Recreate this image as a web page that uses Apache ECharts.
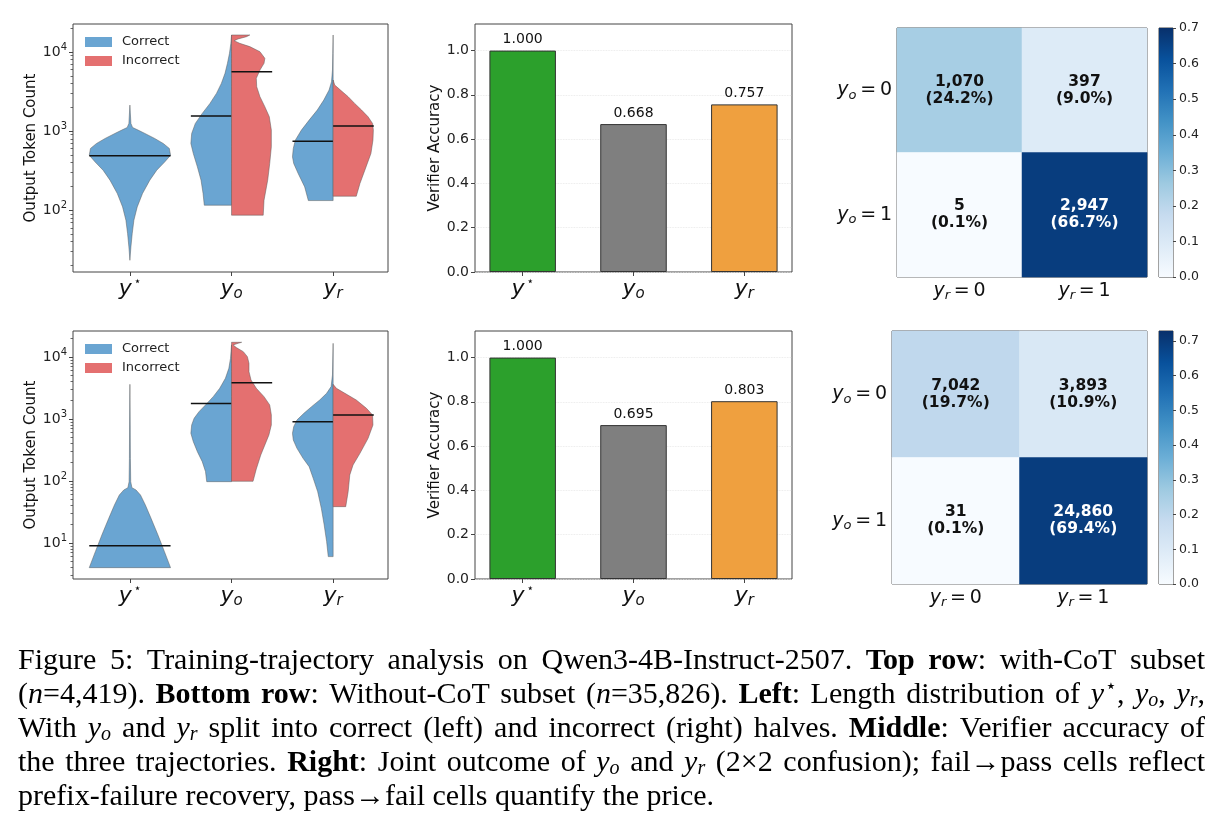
<!DOCTYPE html>
<html>
<head>
<meta charset="UTF-8">
<title>Figure 5</title>
<style>
  html, body { margin: 0; padding: 0; background: #fff; }
  #main { width: 1224px; height: 822px; }
</style>
</head>
<body>
<div id="main"></div>
<script src="https://cdn.jsdelivr.net/npm/echarts@6/dist/echarts.min.js"></script>
<script>
// ---------------- data ----------------
// length profiles: level = log10(output tokens), width = relative density (1 = widest)
// with-CoT (top row)
var tStarLog = [1.367, 1.536, 1.705, 1.873, 2.042, 2.211, 2.380, 2.506, 2.612, 2.696, 2.781, 2.844, 2.907, 2.970, 3.013, 3.046, 3.097, 3.329];
var tStarW   = [0, 0.025, 0.057, 0.098, 0.18, 0.31, 0.49, 0.66, 0.86, 1, 0.97, 0.82, 0.61, 0.37, 0.2, 0.066, 0.025, 0];
var tOCLog = [2.063, 2.211, 2.380, 2.549, 2.717, 2.844, 2.970, 3.097, 3.224, 3.350, 3.477, 3.603, 3.730, 3.857, 3.983, 4.110, 4.215];
var tOCW   = [0.67, 0.70, 0.75, 0.84, 0.94, 1, 0.98, 0.89, 0.72, 0.53, 0.37, 0.25, 0.16, 0.1, 0.05, 0.016, 0];
var tOILog = [1.937, 2.127, 2.380, 2.591, 2.802, 3.013, 3.181, 3.308, 3.435, 3.561, 3.667, 3.772, 3.857, 3.920, 4.004, 4.068, 4.110, 4.143, 4.165, 4.194, 4.215];
var tOIW   = [0.78, 0.8, 0.89, 0.94, 0.98, 0.98, 0.93, 0.82, 0.7, 0.62, 0.61, 0.7, 0.8, 0.82, 0.7, 0.45, 0.2, 0.066, 0.16, 0.37, 0.45];
var tRCLog = [2.122, 2.295, 2.464, 2.591, 2.675, 2.781, 2.886, 3.013, 3.139, 3.266, 3.392, 3.519, 3.624, 3.772, 3.983, 4.215];
var tRCW   = [0.61, 0.70, 0.86, 0.97, 1, 0.98, 0.93, 0.78, 0.59, 0.39, 0.23, 0.1, 0.04, 0.016, 0.008, 0];
var tRILog = [2.177, 2.338, 2.506, 2.717, 2.886, 3.013, 3.097, 3.181, 3.266, 3.350, 3.435, 3.519, 3.582, 3.646];
var tRIW   = [0.57, 0.66, 0.78, 0.93, 0.98, 0.99, 0.97, 0.86, 0.70, 0.53, 0.37, 0.18, 0.04, 0];
var tMedians = [487, 1550, 5640, 747, 1157]; // y*, yo correct, yo incorrect, yr correct, yr incorrect

// without-CoT (bottom row)
var bStarLog = [0.602, 0.860, 1.129, 1.398, 1.613, 1.774, 1.855, 1.892, 1.989, 2.366, 2.903, 3.559];
var bStarW   = [1, 0.85, 0.69, 0.52, 0.38, 0.26, 0.15, 0.05, 0.02, 0.012, 0.008, 0];
var bOCLog = [1.989, 2.151, 2.312, 2.473, 2.634, 2.769, 2.903, 3.011, 3.118, 3.226, 3.360, 3.495, 3.656, 3.817, 3.978, 4.194];
var bOCW   = [0.61, 0.64, 0.72, 0.84, 0.94, 1, 0.98, 0.92, 0.80, 0.64, 0.45, 0.29, 0.15, 0.066, 0.025, 0];
var bOILog = [1.995, 2.194, 2.419, 2.581, 2.742, 2.903, 3.065, 3.226, 3.360, 3.495, 3.629, 3.763, 3.898, 4.005, 4.086, 4.151, 4.194, 4.220, 4.237];
var bOIW   = [0.53, 0.61, 0.72, 0.82, 0.92, 0.98, 0.98, 0.94, 0.80, 0.61, 0.48, 0.43, 0.43, 0.39, 0.29, 0.12, 0.04, 0.16, 0.25];
var bRCLog = [0.780, 1.022, 1.290, 1.559, 1.828, 2.043, 2.231, 2.366, 2.527, 2.661, 2.769, 2.876, 2.984, 3.091, 3.199, 3.306, 3.414, 3.522, 3.710, 4.220];
var bRCW   = [0.12, 0.16, 0.22, 0.29, 0.38, 0.49, 0.59, 0.74, 0.89, 0.98, 1, 0.97, 0.89, 0.72, 0.53, 0.33, 0.16, 0.05, 0.016, 0];
var bRILog = [1.586, 1.828, 2.097, 2.258, 2.446, 2.688, 2.903, 3.065, 3.172, 3.306, 3.414, 3.495, 3.559];
var bRIW   = [0.31, 0.37, 0.41, 0.49, 0.66, 0.86, 0.98, 0.97, 0.82, 0.57, 0.29, 0.08, 0];
var bMedians = [9, 1770, 3850, 906, 1160];

// verifier accuracy
var accTop = [1.000, 0.668, 0.757];
var accBot = [1.000, 0.695, 0.803];

// confusion counts, rows yo = 0/1, cols yr = 0/1
var confTop = [[1070, 397], [5, 2947]];
var confBot = [[7042, 3893], [31, 24860]];

var accTicks = [0, 0.2, 0.4, 0.6, 0.8, 1.0];
var cbTicks = [0, 0.1, 0.2, 0.3, 0.4, 0.5, 0.6, 0.7];
var binLabels = ['0', '1'];

// ---------------- style ----------------
var FONT = 'DejaVu Sans';
var SERIF = 'Liberation Serif';
var BLUE = '#6aa5d2', RED = '#e47070';
var barColors = ['#2ca02c', '#7f7f7f', '#efa03f'];
var BLUES = ['#f7fbff', '#deebf7', '#c6dbef', '#9ecae1', '#6baed6', '#4292c6', '#2171b5', '#08519c', '#08306b'];
var HALF = 0.4;
var SPINE = '#444';

function halves(logs, ws, meds) {
  return {
    correct: [
      { cat: 0, side: 0, log: logs[0], w: ws[0], med: meds[0] },
      { cat: 1, side: -1, log: logs[1], w: ws[1], med: meds[1] },
      { cat: 2, side: -1, log: logs[3], w: ws[3], med: meds[3] }
    ],
    incorrect: [
      { cat: 1, side: 1, log: logs[2], w: ws[2], med: meds[2] },
      { cat: 2, side: 1, log: logs[4], w: ws[4], med: meds[4] }
    ]
  };
}
var vTop = halves([tStarLog, tOCLog, tOILog, tRCLog, tRILog], [tStarW, tOCW, tOIW, tRCW, tRIW], tMedians);
var vBot = halves([bStarLog, bOCLog, bOILog, bRCLog, bRILog], [bStarW, bOCW, bOIW, bRCW, bRIW], bMedians);

function violinSeries(name, list, axX, axY, color) {
  return {
    type: 'custom', name: name, xAxisIndex: axX, yAxisIndex: axY,
    itemStyle: { color: color },
    data: list.map(function (v) { return [v.cat, Math.log10(v.med)]; }),
    renderItem: function (params, api) {
      var v = list[params.dataIndex];
      var left = [], right = [];
      for (var i = 0; i < v.log.length; i++) {
        var hw = v.w[i] * HALF;
        left.push(api.coord([v.cat - (v.side <= 0 ? hw : 0), v.log[i]]));
        right.push(api.coord([v.cat + (v.side >= 0 ? hw : 0), v.log[i]]));
      }
      var pts = right.concat(left.slice().reverse());
      var m = Math.log10(v.med);
      var a = api.coord([v.cat - (v.side <= 0 ? HALF : 0), m]);
      var b = api.coord([v.cat + (v.side >= 0 ? HALF : 0), m]);
      return {
        type: 'group',
        children: [
          { type: 'polygon', shape: { points: pts },
            style: { fill: color, stroke: 'rgba(90,90,90,0.7)', lineWidth: 0.7 } },
          { type: 'line', shape: { x1: a[0], y1: a[1], x2: b[0], y2: b[1] },
            style: { stroke: '#111', lineWidth: 1.5 } }
        ]
      };
    }
  };
}

var catRich = {
  i: { fontSize: 22, fontFamily: FONT, fontStyle: 'italic', color: '#111', lineHeight: 26 },
  st: { fontSize: 12, fontFamily: FONT, color: '#111', lineHeight: 12, padding: [0, 0, 14, 2] },
  sb: { fontSize: 15, fontFamily: FONT, fontStyle: 'italic', color: '#111', lineHeight: 15, padding: [11, 0, 0, 0] }
};
function catLabel(v) {
  var k = Math.round(v);
  return ['{i|y}{st|⋆}', '{i|y}{sb|o}', '{i|y}{sb|r}'][k];
}
var powRich = {
  b: { fontSize: 14, fontFamily: FONT, color: '#222', lineHeight: 20 },
  s: { fontSize: 10, fontFamily: FONT, color: '#222', lineHeight: 10, padding: [0, 0, 10, 0] }
};

function logTicks(lo, hi) {
  var major = [], minor = [];
  for (var d = Math.floor(lo); d <= Math.ceil(hi); d++) {
    if (d >= lo && d <= hi) major.push(d);
    for (var k = 2; k <= 9; k++) {
      var t = d + Math.log10(k);
      if (t >= lo && t <= hi) minor.push(t);
    }
  }
  return { major: major, minor: minor };
}

var grids = [
  { left: 73, top: 24, width: 315, height: 248 },   // 0 violin top
  { left: 73, top: 331, width: 315, height: 248 },  // 1 violin bottom
  { left: 475, top: 24, width: 317, height: 248 },  // 2 bar top
  { left: 475, top: 331, width: 317, height: 248 }, // 3 bar bottom
  { left: 897, top: 28, width: 250, height: 249 },  // 4 heat top
  { left: 892, top: 331, width: 255, height: 253 }, // 5 heat bottom
  { left: 1159, top: 28, width: 14, height: 249 },  // 6 colorbar top
  { left: 1159, top: 331, width: 14, height: 253 }  // 7 colorbar bottom
];
grids.forEach(function (g) { g.show = true; g.borderColor = SPINE; g.borderWidth = 1; });

var noLine = { show: false, onZero: false };
var xAxes = [], yAxes = [];
function violinAxes(gi, lo, hi) {
  var t = logTicks(lo, hi);
  xAxes.push({
    type: 'value', gridIndex: gi, min: -0.56, max: 2.54,
    axisLine: noLine, splitLine: { show: false },
    axisTick: { show: true, length: 4, customValues: [0, 1, 2], lineStyle: { color: SPINE } },
    axisLabel: { customValues: [0, 1, 2], formatter: catLabel, rich: catRich, margin: 4 }
  });
  yAxes.push({
    type: 'value', gridIndex: gi, min: lo, max: hi, position: 'left',
    name: 'Output Token Count', nameLocation: 'middle', nameGap: 28,
    nameTextStyle: { fontSize: 15, fontFamily: FONT, color: '#111' },
    axisLine: noLine, splitLine: { show: false },
    axisTick: { show: true, length: 4, customValues: t.major, lineStyle: { color: SPINE } },
    axisLabel: { customValues: t.major, margin: 6,
      formatter: function (v) { return '{b|10}{s|' + Math.round(v) + '}'; }, rich: powRich }
  });
  // minor log ticks
  yAxes.push({
    type: 'value', gridIndex: gi, min: lo, max: hi, position: 'left', offset: 0,
    axisLine: noLine, splitLine: { show: false },
    axisTick: { show: true, length: 2.5, customValues: t.minor, lineStyle: { color: SPINE, width: 0.8 } },
    axisLabel: { show: false, customValues: t.minor }
  });
}
violinAxes(0, 1.219, 4.354);   // x0, y0, y1
violinAxes(1, 0.419, 4.419);   // x1, y2, y3

function barAxes(gi) {
  xAxes.push({
    type: 'value', gridIndex: gi, min: -0.43, max: 2.43,
    axisLine: noLine, splitLine: { show: false },
    axisTick: { show: true, length: 4, customValues: [0, 1, 2], lineStyle: { color: SPINE } },
    axisLabel: { customValues: [0, 1, 2], formatter: catLabel, rich: catRich, margin: 4 }
  });
  yAxes.push({
    type: 'value', gridIndex: gi, min: 0, max: 1.12,
    name: 'Verifier Accuracy', nameLocation: 'middle', nameGap: 25,
    nameTextStyle: { fontSize: 15, fontFamily: FONT, color: '#111' },
    axisLine: noLine,
    splitLine: { show: true, lineStyle: { color: '#e4e4e4', type: 'dotted', width: 0.8 } },
    axisTick: { show: true, length: 4, customValues: accTicks, lineStyle: { color: SPINE } },
    axisLabel: { customValues: accTicks, fontSize: 14, fontFamily: FONT, color: '#222', margin: 6,
      formatter: function (v) { return v.toFixed(1); } }
  });
}
barAxes(2); // x2, y4
barAxes(3); // x3, y5

var heatRich = {
  i: { fontSize: 19, fontFamily: FONT, fontStyle: 'italic', color: '#111', lineHeight: 24 },
  sb: { fontSize: 13, fontFamily: FONT, fontStyle: 'italic', color: '#111', lineHeight: 13, padding: [10, 0, 0, 0] },
  n: { fontSize: 19, fontFamily: FONT, color: '#111', lineHeight: 24 }
};
function heatAxes(gi) {
  xAxes.push({
    type: 'category', gridIndex: gi, data: binLabels,
    axisLine: noLine, axisTick: { show: false }, splitLine: { show: false },
    axisLabel: { margin: 2, rich: heatRich, formatter: function (v) { return '{i|y}{sb|r}{n|\u2009=\u2009' + v + '}'; } }
  });
  yAxes.push({
    type: 'category', gridIndex: gi, data: binLabels, inverse: true,
    axisLine: noLine, axisTick: { show: false }, splitLine: { show: false },
    axisLabel: { margin: 5, rich: heatRich, formatter: function (v) { return '{i|y}{sb|o}{n|\u2009=\u2009' + v + '}'; } }
  });
}
heatAxes(4); // x4, y6
heatAxes(5); // x5, y7

function fracs(conf) {
  var tot = conf[0][0] + conf[0][1] + conf[1][0] + conf[1][1];
  var out = [];
  for (var r = 0; r < 2; r++) for (var c = 0; c < 2; c++) out.push([c, r, conf[r][c] / tot, conf[r][c]]);
  return out;
}
var heatTop = fracs(confTop), heatBot = fracs(confBot);
function vmax(cells) { return Math.max.apply(null, cells.map(function (d) { return d[2]; })) * 1.05; }
var vmaxTop = vmax(heatTop), vmaxBot = vmax(heatBot);

function cbarAxes(gi, vm) {
  xAxes.push({ type: 'value', gridIndex: gi, min: 0, max: 1, show: false });
  yAxes.push({
    type: 'value', gridIndex: gi, min: 0, max: vm, position: 'right',
    axisLine: noLine, splitLine: { show: false },
    axisTick: { show: true, length: 3, customValues: cbTicks, lineStyle: { color: SPINE } },
    axisLabel: { customValues: cbTicks, fontSize: 12.5, fontFamily: FONT, color: '#222', margin: 6,
      formatter: function (v) { return v.toFixed(1); } }
  });
}
cbarAxes(6, vmaxTop); // x6, y8
cbarAxes(7, vmaxBot); // x7, y9

function barSeries(axX, axY, acc) {
  var g = grids[axX];
  return {
    type: 'bar', xAxisIndex: axX, yAxisIndex: axY,
    barWidth: 0.6 * g.width / 2.86,
    itemStyle: { borderColor: '#333', borderWidth: 1 },
    label: { show: true, position: 'top', distance: 4, fontSize: 14, fontFamily: FONT, color: '#111',
      formatter: function (p) { return p.value[1].toFixed(3); } },
    data: acc.map(function (v, i) { return { value: [i, v], itemStyle: { color: barColors[i] } }; })
  };
}

function heatSeries(axX, axY, cells) {
  return {
    type: 'heatmap', xAxisIndex: axX, yAxisIndex: axY,
    label: {
      show: true, fontSize: 15.5, fontWeight: 'bold', fontFamily: FONT, lineHeight: 17, color: '#111',
      formatter: function (p) {
        return p.value[3].toLocaleString('en-US') + '\n(' + (p.value[2] * 100).toFixed(1) + '%)';
      }
    },
    data: cells.map(function (d) {
      return { value: d, label: { color: d[2] > 0.5 ? '#fff' : '#111' } };
    })
  };
}

function cbarSeries(axX, axY, vm) {
  return {
    type: 'custom', xAxisIndex: axX, yAxisIndex: axY, data: [[0, 0]],
    renderItem: function (params, api) {
      var p0 = api.coord([0, 0]), p1 = api.coord([1, vm]);
      var stops = BLUES.map(function (c, i) { return { offset: i / (BLUES.length - 1), color: c }; });
      return { type: 'rect', shape: { x: p0[0], y: p1[1], width: p1[0] - p0[0], height: p0[1] - p1[1] },
        style: { fill: new echarts.graphic.LinearGradient(0, 1, 0, 0, stops) } };
    }
  };
}

// ---------------- caption (justified lines) ----------------
var capLines = [
  [['Figure 5: Training-trajectory analysis on Qwen3-4B-Instruct-2507. ', 'r'], ['Top row', 'b'], [': with-CoT subset', 'r']],
  [['(', 'r'], ['n', 'i'], ['=4,419). ', 'r'], ['Bottom row', 'b'], [': Without-CoT subset (', 'r'], ['n', 'i'], ['=35,826). ', 'r'],
   ['Left', 'b'], [': Length distribution of ', 'r'], ['y', 'i'], ['⋆', 'sp'], [', ', 'r'], ['y', 'i'], ['o', 'sb'], [', ', 'r'],
   ['y', 'i'], ['r', 'sb'], [',', 'r']],
  [['With ', 'r'], ['y', 'i'], ['o', 'sb'], [' and ', 'r'], ['y', 'i'], ['r', 'sb'],
   [' split into correct (left) and incorrect (right) halves. ', 'r'], ['Middle', 'b'], [': Verifier accuracy of', 'r']],
  [['the three trajectories. ', 'r'], ['Right', 'b'], [': Joint outcome of ', 'r'], ['y', 'i'], ['o', 'sb'], [' and ', 'r'],
   ['y', 'i'], ['r', 'sb'], [' (2×2 confusion); fail→pass cells reflect', 'r']],
  [['prefix-failure recovery, pass→fail cells quantify the price.', 'r']]
];
var CAP = 30;
var capRich = {
  r: { fontSize: CAP, fontFamily: SERIF, lineHeight: 34, fill: '#000' },
  b: { fontSize: CAP, fontFamily: SERIF, fontWeight: 'bold', lineHeight: 34, fill: '#000' },
  i: { fontSize: CAP, fontFamily: SERIF, fontStyle: 'italic', lineHeight: 34, fill: '#000' },
  sp: { fontSize: 19, fontFamily: SERIF, lineHeight: 19, padding: [0, 0, 15, 1], fill: '#000' },
  sb: { fontSize: 20, fontFamily: SERIF, fontStyle: 'italic', lineHeight: 20, padding: [12, 0, 0, 0], fill: '#000' }
};
var mctx = document.createElement('canvas').getContext('2d');
function textWidth(text, key) {
  var st = capRich[key];
  mctx.font = (st.fontStyle || 'normal') + ' ' + (st.fontWeight || 'normal') + ' ' + st.fontSize + 'px "' + SERIF + '"';
  var pad = st.padding ? st.padding[1] + st.padding[3] : 0;
  return mctx.measureText(text).width + pad;
}
var capW = 1187;
var capY = [661, 695, 729, 763, 797];
var caption = capLines.map(function (line, k) {
  var toks = [];
  line.forEach(function (seg) {
    seg[0].split(' ').forEach(function (p, j) {
      if (j > 0) toks.push([' ', 'g']);
      if (p) toks.push([p, seg[1]]);
    });
  });
  var wordsW = 0, gaps = 0;
  toks.forEach(function (t) { if (t[1] === 'g') gaps++; else wordsW += textWidth(t[0], t[1]); });
  var spaceW = textWidth(' ', 'r');
  var gapW = k < 4 ? (capW - wordsW) / gaps : spaceW;
  var sx = 1;
  if (gapW < spaceW * 0.6) { // too tight: compress glyphs a little instead
    gapW = spaceW * 0.6;
    sx = capW / (wordsW + gaps * gapW);
  }
  var rich = Object.assign({}, capRich, { g: { fontSize: CAP, fontFamily: SERIF, lineHeight: 34, width: gapW } });
  return {
    type: 'text', x: 18, y: capY[k], scaleX: sx,
    style: {
      text: toks.map(function (t) { return '{' + t[1] + '|' + t[0] + '}'; }).join(''),
      rich: rich, align: 'left', verticalAlign: 'middle', fill: '#000'
    }
  };
});

// ---------------- chart ----------------
var chart = echarts.init(document.getElementById('main'));
var legendStyle = {
  orient: 'vertical', left: 85, itemWidth: 27, itemHeight: 10, itemGap: 5, padding: 0,
  icon: 'rect', selectedMode: false,
  textStyle: { fontSize: 13, fontFamily: FONT, color: '#222', lineHeight: 14, padding: [0, 0, 0, 5] },
  data: [{ name: 'Correct', itemStyle: { color: BLUE } }, { name: 'Incorrect', itemStyle: { color: RED } }]
};

chart.setOption({
  animation: false,
  backgroundColor: '#fff',
  grid: grids,
  xAxis: xAxes,
  yAxis: yAxes,
  legend: [
    Object.assign({}, legendStyle, { top: 35 }),
    Object.assign({}, legendStyle, { top: 342 })
  ],
  visualMap: [
    { type: 'continuous', show: false, seriesIndex: 6, dimension: 2, min: 0, max: vmaxTop, inRange: { color: BLUES } },
    { type: 'continuous', show: false, seriesIndex: 7, dimension: 2, min: 0, max: vmaxBot, inRange: { color: BLUES } }
  ],
  series: [
    violinSeries('Correct', vTop.correct, 0, 0, BLUE),
    violinSeries('Incorrect', vTop.incorrect, 0, 0, RED),
    violinSeries('Correct', vBot.correct, 1, 2, BLUE),
    violinSeries('Incorrect', vBot.incorrect, 1, 2, RED),
    barSeries(2, 4, accTop),
    barSeries(3, 5, accBot),
    heatSeries(4, 6, heatTop),
    heatSeries(5, 7, heatBot),
    cbarSeries(6, 8, vmaxTop),
    cbarSeries(7, 9, vmaxBot)
  ],
  graphic: caption
});
</script>
</body>
</html>
